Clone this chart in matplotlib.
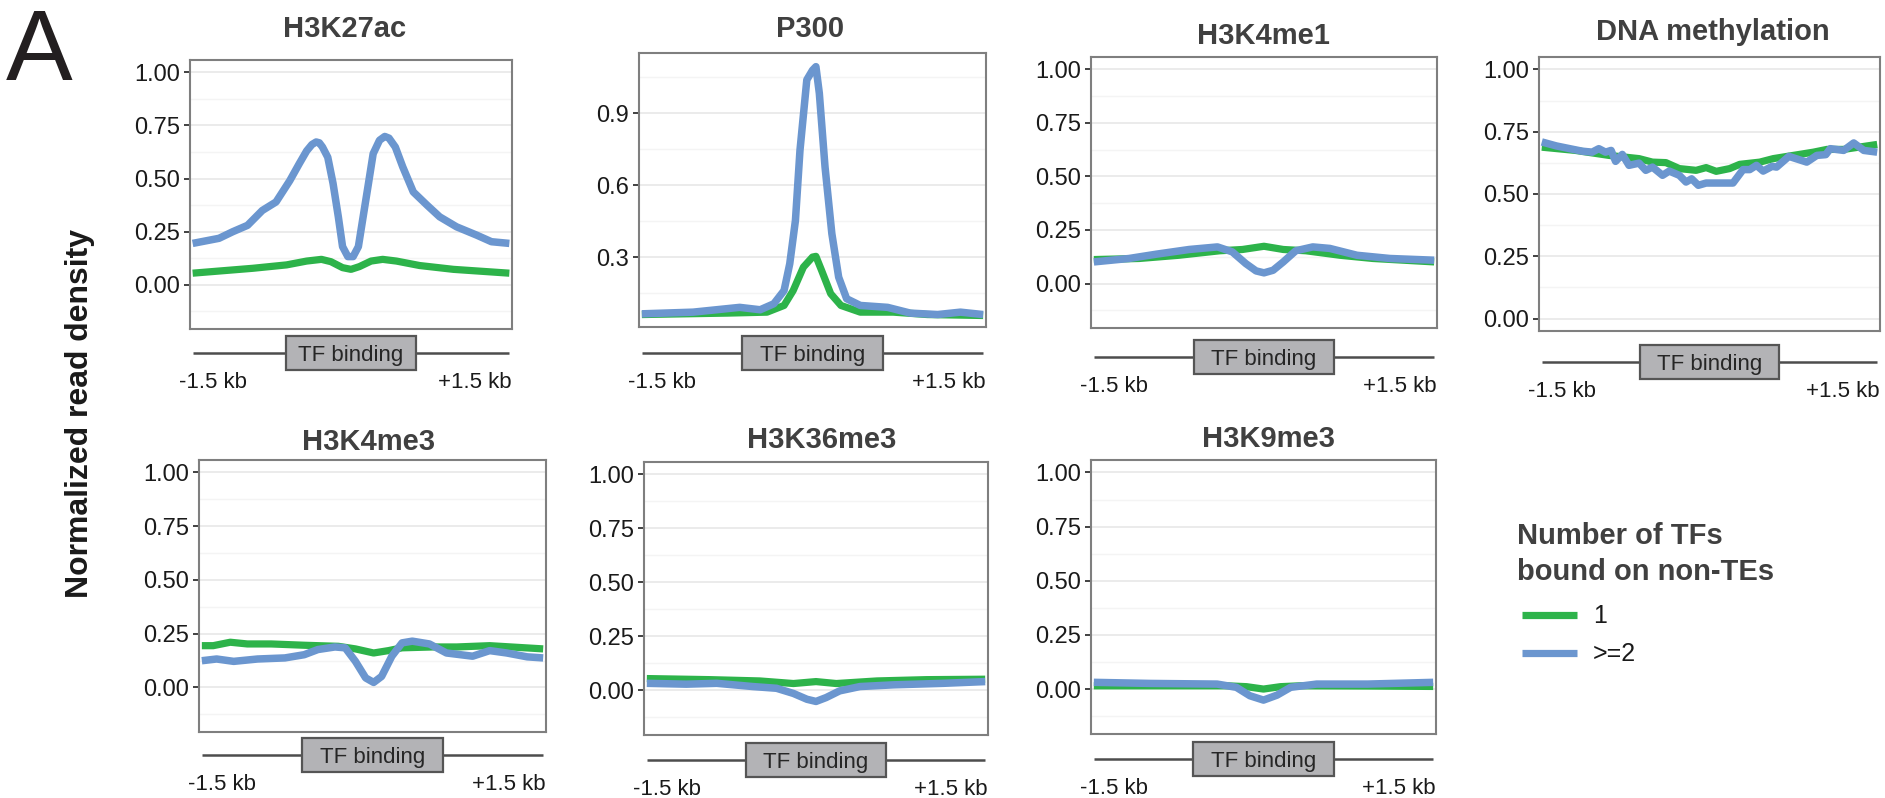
import matplotlib
matplotlib.use("Agg")
import matplotlib.pyplot as plt
from matplotlib.patches import Rectangle
from matplotlib.lines import Line2D
from matplotlib.transforms import blended_transform_factory, ScaledTranslation

plt.rcParams['font.family'] = ['Liberation Sans', 'DejaVu Sans']

# ---------------- data ----------------
titles = ["H3K27ac", "P300", "H3K4me1", "DNA methylation",
          "H3K4me3", "H3K36me3", "H3K9me3"]
series_labels = ["1", ">=2"]
legend_title = "Number of TFs\nbound on non-TEs"
ylabel = "Normalized read density"
region_label = "TF binding"
left_label = "-1.5 kb"
right_label = "+1.5 kb"

# H3K27ac
h3k27ac_x1 = [-1.50, -0.93, -0.61, -0.42, -0.28, -0.19, -0.08, 0.00, 0.08, 0.19, 0.30, 0.43, 0.65, 0.97, 1.50]
h3k27ac_y1 = [0.055, 0.078, 0.094, 0.112, 0.120, 0.109, 0.081, 0.073, 0.086, 0.112, 0.120, 0.112, 0.091, 0.073, 0.055]
h3k27ac_x2 = [-1.50, -1.25, -1.12, -0.98, -0.84, -0.71, -0.58, -0.49, -0.42, -0.37, -0.33, -0.30, -0.27, -0.22, -0.17, -0.12,
              -0.08, -0.03, 0.02, 0.07, 0.11, 0.16, 0.21, 0.27, 0.32, 0.36, 0.42, 0.49, 0.59, 0.72, 0.84, 1.00, 1.19, 1.33, 1.50]
h3k27ac_y2 = [0.195, 0.219, 0.250, 0.280, 0.350, 0.390, 0.490, 0.570, 0.630, 0.660, 0.672, 0.668, 0.648, 0.600, 0.477, 0.320,
              0.180, 0.133, 0.133, 0.180, 0.305, 0.460, 0.617, 0.680, 0.698, 0.690, 0.648, 0.555, 0.437, 0.375, 0.320, 0.273, 0.234, 0.203, 0.195]

# P300
p300_x1 = [-1.50, -0.75, -0.40, -0.25, -0.17, -0.08, 0.00, 0.03, 0.08, 0.16, 0.25, 0.42, 0.71, 1.01, 1.50]
p300_y1 = [0.060, 0.066, 0.070, 0.098, 0.160, 0.258, 0.300, 0.303, 0.244, 0.147, 0.098, 0.070, 0.070, 0.060, 0.056]
p300_x2 = [-1.50, -1.05, -0.64, -0.46, -0.34, -0.25, -0.20, -0.15, -0.11, -0.05, 0.00, 0.03, 0.06, 0.11, 0.17,
           0.23, 0.30, 0.42, 0.66, 0.86, 1.10, 1.30, 1.50]
p300_y2 = [0.063, 0.070, 0.090, 0.080, 0.105, 0.160, 0.272, 0.453, 0.746, 1.040, 1.080, 1.095, 0.984, 0.677, 0.398,
           0.216, 0.126, 0.098, 0.090, 0.066, 0.060, 0.070, 0.060]

# H3K4me1
h3k4me1_x1 = [-1.50, -1.10, -0.75, -0.39, -0.19, 0.00, 0.17, 0.37, 0.67, 0.96, 1.50]
h3k4me1_y1 = [0.112, 0.117, 0.132, 0.153, 0.159, 0.174, 0.159, 0.153, 0.132, 0.117, 0.101]
h3k4me1_x2 = [-1.50, -1.19, -0.95, -0.66, -0.41, -0.28, -0.16, -0.07, 0.00, 0.08, 0.17, 0.28, 0.43, 0.58, 0.82, 1.11, 1.50]
h3k4me1_y2 = [0.101, 0.117, 0.137, 0.159, 0.171, 0.148, 0.093, 0.059, 0.050, 0.062, 0.101, 0.153, 0.171, 0.164, 0.132, 0.117, 0.109]

# DNA methylation
dnam_x1 = [-1.50, -1.20, -0.90, -0.63, -0.51, -0.39, -0.27, -0.12, -0.03, 0.06, 0.18, 0.27, 0.45, 0.57, 0.75,
           0.93, 1.05, 1.20, 1.50]
dnam_y1 = [0.688, 0.675, 0.655, 0.642, 0.628, 0.626, 0.602, 0.595, 0.606, 0.591, 0.602, 0.619, 0.628, 0.642, 0.655,
           0.668, 0.679, 0.679, 0.699]
dnam_x2 = [-1.50, -1.37, -1.25, -1.14, -1.05, -0.99, -0.93, -0.88, -0.84, -0.78, -0.72, -0.63, -0.57, -0.51, -0.42,
           -0.36, -0.27, -0.21, -0.16, -0.10, -0.03, 0.09, 0.21, 0.30, 0.36, 0.42, 0.48, 0.56, 0.60, 0.71, 0.87, 0.96,
           1.04, 1.08, 1.20, 1.29, 1.38, 1.50]
dnam_y2 = [0.709, 0.693, 0.682, 0.672, 0.668, 0.682, 0.668, 0.675, 0.631, 0.659, 0.615, 0.624, 0.595, 0.608, 0.575,
           0.592, 0.575, 0.548, 0.561, 0.535, 0.544, 0.544, 0.544, 0.598, 0.598, 0.615, 0.592, 0.611, 0.608, 0.651,
           0.628, 0.655, 0.658, 0.682, 0.675, 0.705, 0.675, 0.668]

# H3K4me3
h3k4me3_x1 = [-1.50, -1.40, -1.25, -1.10, -0.89, -0.60, -0.30, -0.15, 0.01, 0.14, 0.26, 0.53, 0.74, 1.03, 1.50]
h3k4me3_y1 = [0.194, 0.194, 0.210, 0.202, 0.202, 0.196, 0.191, 0.179, 0.160, 0.171, 0.184, 0.188, 0.188, 0.194, 0.179]
h3k4me3_x2 = [-1.50, -1.37, -1.22, -1.01, -0.77, -0.60, -0.48, -0.33, -0.24, -0.15, -0.06, 0.01, 0.08, 0.17, 0.26,
              0.35, 0.50, 0.65, 0.88, 1.03, 1.18, 1.36, 1.50]
h3k4me3_y2 = [0.124, 0.132, 0.121, 0.132, 0.137, 0.152, 0.176, 0.188, 0.184, 0.121, 0.044, 0.023, 0.051, 0.145, 0.207,
              0.215, 0.202, 0.160, 0.145, 0.171, 0.160, 0.142, 0.137]

# H3K36me3
h3k36me3_x1 = [-1.50, -0.94, -0.50, -0.20, 0.00, 0.18, 0.54, 0.98, 1.50]
h3k36me3_y1 = [0.054, 0.049, 0.043, 0.031, 0.040, 0.031, 0.043, 0.049, 0.051]
h3k36me3_x2 = [-1.50, -1.15, -0.88, -0.56, -0.35, -0.20, -0.08, 0.00, 0.09, 0.21, 0.39, 0.69, 1.13, 1.50]
h3k36me3_y2 = [0.032, 0.028, 0.032, 0.017, 0.009, -0.015, -0.042, -0.052, -0.034, -0.003, 0.017, 0.025, 0.032, 0.040]

# H3K9me3
h3k9me3_x1 = [-1.50, -0.86, -0.32, -0.15, 0.00, 0.15, 0.32, 0.92, 1.50]
h3k9me3_y1 = [0.015, 0.015, 0.015, 0.011, 0.000, 0.011, 0.015, 0.014, 0.012]
h3k9me3_x2 = [-1.50, -1.00, -0.41, -0.24, -0.12, 0.00, 0.12, 0.24, 0.47, 0.92, 1.50]
h3k9me3_y2 = [0.031, 0.026, 0.023, 0.008, -0.031, -0.051, -0.028, 0.008, 0.023, 0.023, 0.031]

std_ticks = [0.00, 0.25, 0.50, 0.75, 1.00]
std_ticklabels = ["0.00", "0.25", "0.50", "0.75", "1.00"]
p300_ticks = [0.3, 0.6, 0.9]
p300_ticklabels = ["0.3", "0.6", "0.9"]

# ---------------- layout / style ----------------
W, H = 1885, 798
GREEN = "#2db34a"
BLUE = "#6b96cf"
STD_MINOR = [-0.125, 0.125, 0.375, 0.625, 0.875]

panels = [
    dict(data=(h3k27ac_x1, h3k27ac_y1, h3k27ac_x2, h3k27ac_y2), box=(190, 60, 512, 329), tpos=(345, 37),
         ylim=(-0.2075, 1.0575), ticks=std_ticks, tl=std_ticklabels, minor=STD_MINOR, off=24),
    dict(data=(p300_x1, p300_y1, p300_x2, p300_y2), box=(639, 53, 986, 327), tpos=(810, 37),
         ylim=(0.008, 1.152), ticks=p300_ticks, tl=p300_ticklabels, minor=[0.15, 0.45, 0.75, 1.05], off=26),
    dict(data=(h3k4me1_x1, h3k4me1_y1, h3k4me1_x2, h3k4me1_y2), box=(1091, 57, 1437, 328), tpos=(1263, 44),
         ylim=(-0.2075, 1.0575), ticks=std_ticks, tl=std_ticklabels, minor=STD_MINOR, off=29),
    dict(data=(dnam_x1, dnam_y1, dnam_x2, dnam_y2), box=(1539, 57, 1880, 331), tpos=(1713, 40),
         ylim=(-0.05, 1.05), ticks=std_ticks, tl=std_ticklabels, minor=[0.125, 0.375, 0.625, 0.875], off=31),
    dict(data=(h3k4me3_x1, h3k4me3_y1, h3k4me3_x2, h3k4me3_y2), box=(199, 460, 546, 732), tpos=(369, 450),
         ylim=(-0.2075, 1.0575), ticks=std_ticks, tl=std_ticklabels, minor=STD_MINOR, off=23),
    dict(data=(h3k36me3_x1, h3k36me3_y1, h3k36me3_x2, h3k36me3_y2), box=(644, 462, 988, 735), tpos=(822, 448),
         ylim=(-0.2075, 1.0575), ticks=std_ticks, tl=std_ticklabels, minor=STD_MINOR, off=25),
    dict(data=(h3k9me3_x1, h3k9me3_y1, h3k9me3_x2, h3k9me3_y2), box=(1091, 460, 1436, 734), tpos=(1268, 447),
         ylim=(-0.2075, 1.0575), ticks=std_ticks, tl=std_ticklabels, minor=STD_MINOR, off=25),
]

fig = plt.figure(figsize=(W / 100, H / 100), dpi=100)

for title, p in zip(titles, panels):
    l, t, r, b = p["box"]
    hpx = b - t
    ax = fig.add_axes([l / W, 1 - b / H, (r - l) / W, (b - t) / H])
    x1, y1, x2, y2 = p["data"]
    ax.plot(x1, y1, color=GREEN, lw=5.2, solid_joinstyle="round", solid_capstyle="butt", zorder=3)
    ax.plot(x2, y2, color=BLUE, lw=5.4, solid_joinstyle="round", solid_capstyle="butt", zorder=4)
    ax.set_xlim(-1.525, 1.525)
    ax.set_ylim(*p["ylim"])
    ax.set_xticks([])
    ax.set_yticks(p["ticks"])
    ax.set_yticklabels(p["tl"])
    ax.set_yticks(p["minor"], minor=True)
    ax.tick_params(axis="y", which="major", length=4, width=1.3, color="#333333",
                   labelsize=17, labelcolor="#1a1a1a", pad=3)
    ax.tick_params(axis="y", which="minor", length=0)
    ax.grid(axis="y", which="major", color="#e9e9e9", lw=1.3)
    ax.grid(axis="y", which="minor", color="#f4f4f4", lw=1.0)
    ax.set_axisbelow(True)
    for s in ax.spines.values():
        s.set_color("#7f7f7f")
        s.set_linewidth(1.5)

    # TF binding annotation under each panel
    trans = blended_transform_factory(ax.transData, ax.transAxes)
    yl = -p["off"] / hpx
    ax.plot([-1.5, 1.5], [yl, yl], transform=trans, color="#4d4d4d", lw=1.8,
            clip_on=False, solid_capstyle="butt", zorder=5)
    ax.add_patch(Rectangle((-0.62, yl - 17 / hpx), 1.24, 34 / hpx, transform=trans,
                           facecolor="#b3b3b6", edgecolor="#555555", lw=1.6, clip_on=False, zorder=6))
    ax.text(0, yl - 8 / hpx, region_label, transform=trans, ha="center", va="baseline",
            fontsize=16, color="#262626", zorder=7, clip_on=False)
    ax.text(-1.5, yl - 35 / hpx, left_label,
            transform=trans + ScaledTranslation(-0.14, 0, fig.dpi_scale_trans),
            ha="left", va="baseline", fontsize=16, color="#1a1a1a", clip_on=False)
    ax.text(1.5, yl - 35 / hpx, right_label,
            transform=trans + ScaledTranslation(0.02, 0, fig.dpi_scale_trans),
            ha="right", va="baseline", fontsize=16, color="#1a1a1a", clip_on=False)

    cx, base = p["tpos"]
    fig.text(cx / W, 1 - base / H, title, ha="center", va="baseline", fontsize=21,
             fontweight="bold", color="#404040")

# panel letter and shared y label
fig.text(6 / W, 1 - 80 / H, "A", fontsize=72, ha="left", va="baseline", color="#231f20")
fig.text(80 / W, 1 - 413 / H, ylabel, rotation=90, ha="center", va="center",
         fontsize=23, fontweight="bold", color="#1a1a1a")

# legend (drawn as figure artists for exact placement)
for i, line in enumerate(legend_title.split("\n")):
    fig.text(1517 / W, 1 - (544 + 36 * i) / H, line, ha="left", va="baseline",
             fontsize=21, fontweight="bold", color="#404040")
for i, (lab, col) in enumerate(zip(series_labels, [GREEN, BLUE])):
    yc = 615 + 38 * i
    fig.add_artist(Line2D([1522 / W, 1577 / W], [1 - yc / H, 1 - yc / H], transform=fig.transFigure,
                          color=col, lw=5.2, solid_capstyle="butt"))
    fig.text(1593 / W, 1 - (yc + 8) / H, lab, ha="left", va="baseline", fontsize=18, color="#1a1a1a")

fig.savefig("out.png", dpi=100, facecolor="white")
